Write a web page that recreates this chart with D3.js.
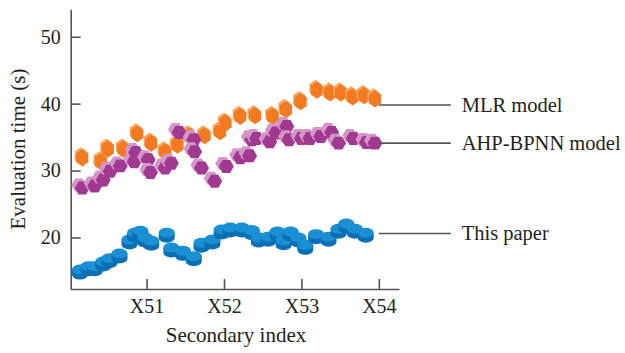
<!DOCTYPE html>
<html>
<head>
<meta charset="utf-8">
<script src="https://cdn.jsdelivr.net/npm/d3@7"></script>
<style>
  body { margin: 0; background: #fff; }
  svg text { font-family: "Liberation Serif", "DejaVu Serif", serif; fill: #231f20; }
</style>
</head>
<body>
<svg id="chart" width="625" height="353"></svg>
<script>
// values
const mlrX = [50.17, 50.41, 50.50, 50.70, 50.88, 51.06, 51.24, 51.40, 51.55, 51.75, 51.95, 52.02,
              52.21, 52.40, 52.63, 52.80, 52.99, 53.20, 53.37, 53.51, 53.66, 53.81, 53.95];
const mlrY = [31.9, 31.3, 33.2, 33.2, 35.5, 34.1, 32.8, 33.8, 35.2, 35.2, 35.8, 37.1,
              38.1, 38.2, 38.1, 39.1, 40.3, 42.0, 41.6, 41.6, 41.0, 41.2, 40.7];

const ahpX = [50.17, 50.33, 50.44, 50.53, 50.66, 50.84, 50.86, 51.02, 51.05, 51.24, 51.32, 51.42,
              51.61, 51.62, 51.71, 51.88, 52.03, 52.21, 52.33, 52.36, 52.42, 52.59, 52.67, 52.81,
              52.84, 53.00, 53.11, 53.25, 53.39, 53.48, 53.67, 53.84, 53.95];
const ahpY = [27.4, 27.7, 28.6, 29.9, 30.7, 31.3, 32.7, 31.6, 29.7, 30.4, 31.1, 35.7,
              34.6, 32.8, 30.4, 28.4, 30.6, 31.9, 32.2, 34.6, 34.8, 34.3, 35.6, 36.6,
              34.6, 34.8, 34.8, 35.1, 35.7, 34.1, 34.8, 34.2, 34.1];

const paperX = [50.14, 50.25, 50.33, 50.44, 50.52, 50.65, 50.78, 50.85, 50.92, 50.98, 51.06, 51.26,
                51.32, 51.47, 51.61, 51.71, 51.85, 51.97, 52.08, 52.23, 52.36, 52.45, 52.57, 52.69,
                52.77, 52.86, 52.96, 53.05, 53.19, 53.35, 53.48, 53.58, 53.69, 53.83];
const paperY = [14.9, 15.4, 15.4, 16.1, 16.6, 17.3, 19.4, 20.4, 20.7, 19.7, 19.2, 20.4,
                18.2, 17.7, 16.9, 18.9, 19.4, 20.9, 21.2, 21.2, 20.8, 19.7, 19.8, 20.6,
                19.3, 20.6, 19.7, 18.6, 20.2, 19.8, 21.0, 21.8, 21.0, 20.4];

const xTicks = [51, 52, 53, 54];
const xTickLabels = ["X51", "X52", "X53", "X54"];
const yTicks = [20, 30, 40, 50];
const seriesNames = ["MLR model", "AHP-BPNN model", "This paper"];
const labelVals = [39.8, 34.1, 20.6]; // where the leader lines sit

const svg = d3.select("svg#chart");
const axisColor = "#555555";

const x = d3.scaleLinear().domain([50.02, 54.26]).range([70.7, 399]);
const y = d3.scaleLinear().domain([12.3, 54.1]).range([289, 9.3]);

// axes, ticks pointing inward
const yAxis = svg.append("g")
    .attr("transform", `translate(${x.range()[0]},0)`)
    .call(d3.axisLeft(y).tickValues(yTicks).tickSizeInner(-10).tickSizeOuter(0).tickPadding(10));
const xAxis = svg.append("g")
    .attr("transform", `translate(0,${y.range()[0]})`)
    .call(d3.axisBottom(x).tickValues(xTicks).tickFormat((d, i) => xTickLabels[i])
          .tickSizeInner(-10).tickSizeOuter(0).tickPadding(10));

[xAxis, yAxis].forEach(a => {
  a.select(".domain").attr("stroke", axisColor).attr("stroke-width", 1.6);
  a.selectAll(".tick line").attr("stroke", axisColor).attr("stroke-width", 1.6);
  a.selectAll(".tick text").attr("font-size", 20).attr("fill", "#231f20")
    .style("font-family", "Liberation Serif, serif");
});

svg.append("text")
    .attr("x", 236).attr("y", 342)
    .attr("text-anchor", "middle")
    .attr("font-size", 21)
    .text("Secondary index");

svg.append("text")
    .attr("transform", "translate(25,149) rotate(-90)")
    .attr("text-anchor", "middle")
    .attr("font-size", 21)
    .text("Evaluation time (s)");

// marker shapes
function hexagon(rx, ry, rot) {
  const pts = d3.range(6).map(i => {
    const a = rot + i * Math.PI / 3;
    return [rx * Math.cos(a), ry * Math.sin(a)];
  });
  return "M" + pts.join("L") + "Z";
}

const plot = svg.append("g");

// MLR: upright hexagonal prisms
const mlr = plot.selectAll("g.mlr").data(d3.zip(mlrX, mlrY)).join("g")
    .attr("class", "mlr")
    .attr("transform", d => `translate(${x(d[0])},${y(d[1])})`);
mlr.append("path").attr("d", hexagon(7, 8.6, Math.PI / 2))
    .attr("transform", "translate(-1.5,-2)").attr("fill", "#f8a35e");
mlr.append("path").attr("d", hexagon(7, 8.6, Math.PI / 2))
    .attr("fill", "#f47a22");

// AHP-BPNN: hexagonal prisms with light back face
const ahp = plot.selectAll("g.ahp").data(d3.zip(ahpX, ahpY)).join("g")
    .attr("class", "ahp")
    .attr("transform", d => `translate(${x(d[0])},${y(d[1])})`);
ahp.append("path").attr("d", hexagon(7.5, 7.5, 0))
    .attr("transform", "translate(-3.5,-3)").attr("fill", "#d496c9");
ahp.append("path").attr("d", hexagon(7.5, 7.5, 0))
    .attr("fill", "#a23991");

// This paper: cylinders
const paper = plot.selectAll("g.paper").data(d3.zip(paperX, paperY)).join("g")
    .attr("class", "paper")
    .attr("transform", d => `translate(${x(d[0])},${y(d[1])})`);
paper.append("path")
    .attr("d", "M-8,-2 L-8,3 A8,5 0 0 0 8,3 L8,-2 Z")
    .attr("fill", "#0a6fb4");
paper.append("ellipse").attr("cx", 0).attr("cy", -2).attr("rx", 8).attr("ry", 5)
    .attr("fill", "#1a8fd4");

// right-side labels with leader lines
const labelG = svg.append("g");
labelG.selectAll("line").data(labelVals).join("line")
    .attr("x1", x(54.0)).attr("x2", x(54.93))
    .attr("y1", d => y(d)).attr("y2", d => y(d))
    .attr("stroke", axisColor).attr("stroke-width", 1.6);
labelG.selectAll("text").data(labelVals).join("text")
    .attr("x", x(55.07))
    .attr("y", d => y(d))
    .attr("dominant-baseline", "central")
    .attr("font-size", 20.5)
    .text((d, i) => seriesNames[i]);
</script>
</body>
</html>
